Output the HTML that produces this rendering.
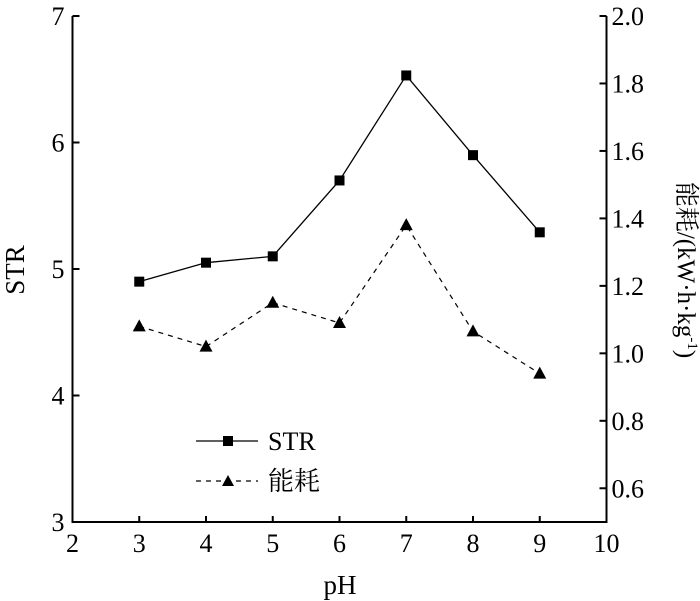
<!DOCTYPE html>
<html><head><meta charset="utf-8"><style>
html,body{margin:0;padding:0;background:#fff;}
svg{display:block;font-family:"Liberation Serif","Noto Serif CJK SC",serif;}
</style></head><body>
<svg id="chart" width="700" height="601" viewBox="0 0 700 601">
<g id="axes"></g>
<g id="series"></g>
<g>
 <line x1="196" y1="441" x2="258" y2="441" stroke="#000" stroke-width="1.3"/>
 <rect x="223" y="436" width="10" height="10" fill="#000"/>
 <text x="268" y="450" font-size="26">STR</text>
 <line x1="196" y1="481" x2="258" y2="481" stroke="#000" stroke-width="1.2" stroke-dasharray="5,5"/>
 <polygon points="228,475 234,486 222,486" fill="#000"/>
 <text x="268" y="490" font-size="26">能耗</text>
</g>
<text x="340" y="594" font-size="27" text-anchor="middle">pH</text>
<text transform="translate(24,270) rotate(-90)" font-size="27" text-anchor="middle">STR</text>
<text transform="translate(678,270) rotate(90)" font-size="25" text-anchor="middle">能耗/(kW·h·kg<tspan font-size="15" dy="-10">-1</tspan><tspan dy="10">)</tspan></text>
</svg>
<script>
const categories = [3, 4, 5, 6, 7, 8, 9];
const strValues = [4.90, 5.05, 5.10, 5.70, 6.53, 5.90, 5.29];
const energyValues = [1.08, 1.02, 1.15, 1.09, 1.38, 1.065, 0.94];
const xTicks = [2, 3, 4, 5, 6, 7, 8, 9, 10];
const leftTicks = [3, 4, 5, 6, 7];
const rightTicks = ["0.6", "0.8", "1.0", "1.2", "1.4", "1.6", "1.8", "2.0"];

const X0 = 72.5, X1 = 606.5, Y0 = 522, Y1 = 16;
const xs = v => X0 + (v - 2) / 8 * (X1 - X0);
const yl = v => Y0 - (v - 3) / 4 * (Y0 - Y1);
const yr = v => Y0 - (v - 0.5) / 1.5 * (Y0 - Y1);
const NS = "http://www.w3.org/2000/svg";
function mk(tag, attrs, parent, text) {
  const e = document.createElementNS(NS, tag);
  for (const k in attrs) e.setAttribute(k, attrs[k]);
  if (text !== undefined) e.textContent = text;
  parent.appendChild(e);
  return e;
}
const axes = document.getElementById('axes');
const series = document.getElementById('series');
let e;
e = mk('path', {d: `M${X0},${Y1} V${Y0} H${X1} V${Y1}`, fill: 'none', stroke: '#000', 'stroke-width': 2}, axes);


xTicks.forEach(t => {
  const x = xs(t);
  e = mk('line', {x1: x, y1: Y0, x2: x, y2: Y0 - 6, stroke: '#000', 'stroke-width': 2}, axes);
  
  
  e = mk('text', {x: x, y: Y0 + 30, 'font-size': 26, 'text-anchor': 'middle'}, axes, String(t));
  
  
});
leftTicks.forEach(t => {
  const y = yl(t);
  e = mk('line', {x1: X0, y1: y, x2: X0 + 7, y2: y, stroke: '#000', 'stroke-width': 2}, axes);
  
  
  e = mk('text', {x: X0 - 8, y: y + 9, 'font-size': 26, 'text-anchor': 'end'}, axes, String(t));
  
  
});
rightTicks.forEach(t => {
  const y = yr(parseFloat(t));
  e = mk('line', {x1: X1, y1: y, x2: X1 - 7, y2: y, stroke: '#000', 'stroke-width': 2}, axes);
  
  
  e = mk('text', {x: X1 + 5, y: y + 9, 'font-size': 26}, axes, t);
  
  
});
e = mk('polyline', {points: categories.map((c, i) => xs(c) + ',' + yl(strValues[i])).join(' '), fill: 'none', stroke: '#000', 'stroke-width': 1.3}, series);


e = mk('polyline', {points: categories.map((c, i) => xs(c) + ',' + yr(energyValues[i])).join(' '), fill: 'none', stroke: '#000', 'stroke-width': 1.2, 'stroke-dasharray': '5,5'}, series);


categories.forEach((c, i) => {
  const x = xs(c), y = yl(strValues[i]);
  e = mk('rect', {x: x - 5, y: y - 5, width: 10, height: 10, fill: '#000'}, series);
  
  
  const y2 = yr(energyValues[i]);
  e = mk('polygon', {points: `${x},${y2 - 7} ${x + 6.5},${y2 + 5} ${x - 6.5},${y2 + 5}`, fill: '#000'}, series);
  
  
});
</script>
</body></html>
